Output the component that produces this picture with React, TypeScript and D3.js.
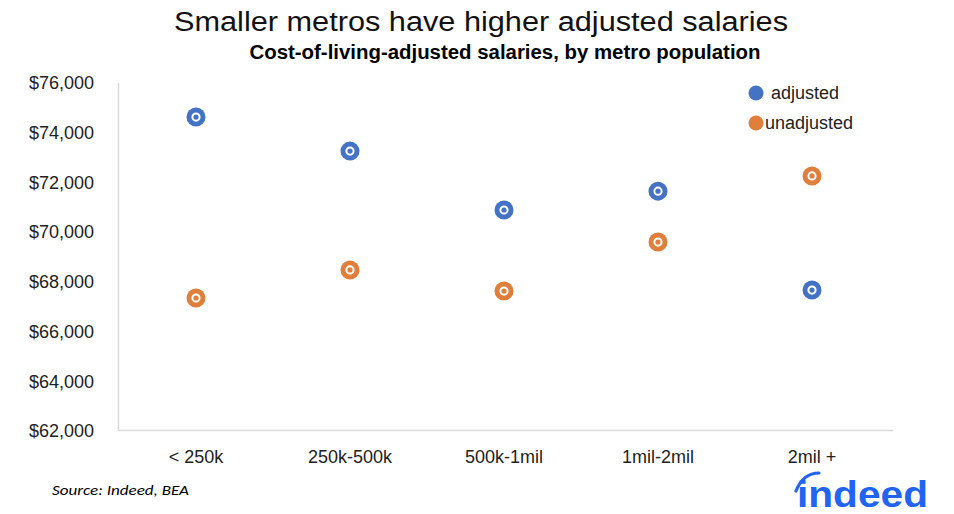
import React from "react";
import * as d3 from "d3";

const categories = ["< 250k", "250k-500k", "500k-1mil", "1mil-2mil", "2mil +"];
const adjusted = [74630, 73260, 70890, 71650, 67670];
const unadjusted = [67350, 68480, 67630, 69600, 72260];
const yTicks = [62000, 64000, 66000, 68000, 70000, 72000, 74000, 76000];

const W = 954;
const H = 514;
const BLUE = "#4472C4";
const ORANGE = "#E07E3C";
const FONT = "'Liberation Sans', Arial, Helvetica, sans-serif";

export default function App() {
  const x = d3.scaleBand<string>().domain(categories).range([119, 889]);
  const y = d3.scaleLinear().domain([62000, 76000]).range([431, 83]);
  const fmt = (v: number) => "$" + d3.format(",")(v);

  const series = [
    { name: "adjusted", values: adjusted, color: BLUE },
    { name: "unadjusted", values: unadjusted, color: ORANGE },
  ];

  return (
    <svg width={W} height={H} style={{ position: "absolute", left: 0, top: 0, background: "#fff" }}>
      <rect x={0} y={0} width={W} height={H} fill="#fff" />
      <text x={481} y={31} textAnchor="middle" fontFamily={FONT} fontSize={27} fontWeight={300}
        fill="#111" textLength={614} lengthAdjust="spacingAndGlyphs">
        Smaller metros have higher adjusted salaries
      </text>
      <text x={505} y={59} textAnchor="middle"
        fontFamily="'Liberation Sans Narrow', 'Arial Narrow', sans-serif" fontSize={20} fontWeight={700}
        fill="#000" textLength={511} lengthAdjust="spacingAndGlyphs">
        Cost-of-living-adjusted salaries, by metro population
      </text>

      {/* axes */}
      <line x1={118.5} x2={118.5} y1={83} y2={431} stroke="#d9d9d9" strokeWidth={1.5} />
      <line x1={118} x2={893} y1={430.5} y2={430.5} stroke="#d9d9d9" strokeWidth={1.5} />

      {yTicks.map((t) => (
        <text key={t} x={94} y={y(t)} dy="0.35em" textAnchor="end" fontFamily={FONT} fontSize={18} fill="#222">
          {fmt(t)}
        </text>
      ))}
      {categories.map((c) => (
        <text key={c} x={(x(c) as number) + x.bandwidth() / 2} y={463} textAnchor="middle"
          fontFamily={FONT} fontSize={18} fill="#222">
          {c}
        </text>
      ))}

      {series.map((s) =>
        s.values.map((v, i) => {
          const cx = (x(categories[i]) as number) + x.bandwidth() / 2;
          const cy = y(v);
          return (
            <g key={s.name + i}>
              <circle cx={cx} cy={cy} r={9.5} fill={s.color} />
              <circle cx={cx} cy={cy} r={3.6} fill="none" stroke="#fff" strokeWidth={2} />
            </g>
          );
        })
      )}

      {/* legend */}
      <circle cx={756} cy={93} r={7.5} fill={BLUE} />
      <text x={771} y={93} dy="0.35em" fontFamily={FONT} fontSize={18} fill="#222">adjusted</text>
      <circle cx={756} cy={123} r={7.5} fill={ORANGE} />
      <text x={765} y={123} dy="0.35em" fontFamily={FONT} fontSize={18} fill="#222">unadjusted</text>

      <text x={52} y={495} fontFamily="Carlito, 'Liberation Sans Narrow', sans-serif" fontStyle="italic"
        fontSize={15} fill="#000" textLength={137} lengthAdjust="spacingAndGlyphs">
        Source: Indeed, BEA
      </text>

      {/* logo */}
      <text x={797} y={507} fontFamily={FONT} fontWeight={700} fontSize={37} fill="#2164F3"
        textLength={131} lengthAdjust="spacingAndGlyphs">
        indeed
      </text>
      <path d="M796,491 Q803,473 819,473" fill="none" stroke="#2164F3" strokeWidth={3.2} strokeLinecap="round" />
    </svg>
  );
}
